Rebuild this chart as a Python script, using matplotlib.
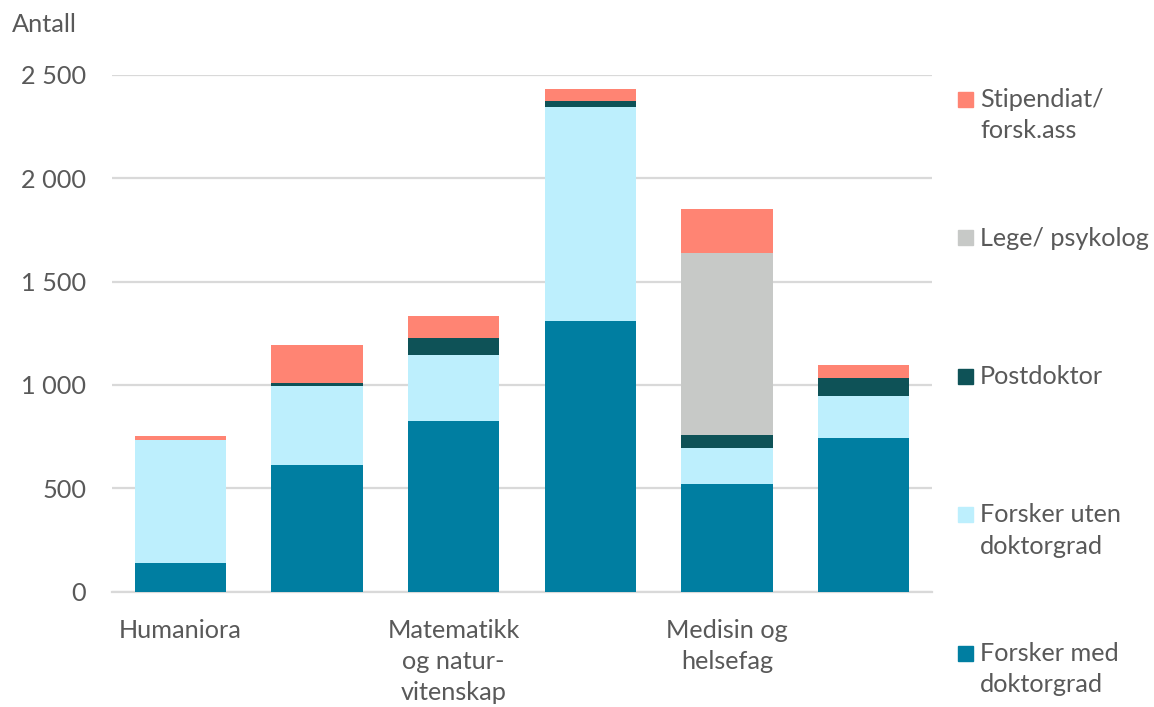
import matplotlib
matplotlib.use("Agg")
import matplotlib.pyplot as plt
from matplotlib.patches import Rectangle
import numpy as np

# data
kategorier = ["Humaniora", "", "Matematikk\nog natur-\nvitenskap", "", "Medisin og\nhelsefag", ""]
forsker_med = [137, 612, 827, 1310, 520, 743]
forsker_uten = [598, 383, 318, 1035, 173, 203]
postdoktor = [0, 14, 82, 28, 65, 87]
lege_psykolog = [0, 0, 0, 0, 878, 0]
stipendiat = [19, 184, 106, 56, 213, 63]

serier = [
    ("Forsker med\ndoktorgrad", forsker_med, "#007EA1"),
    ("Forsker uten\ndoktorgrad", forsker_uten, "#BDEFFD"),
    ("Postdoktor", postdoktor, "#0E5257"),
    ("Lege/ psykolog", lege_psykolog, "#C7C9C7"),
    ("Stipendiat/\nforsk.ass", stipendiat, "#FF8473"),
]

tekstfarge = "#595959"
fs = 18.2
plt.rcParams["font.family"] = ["Lato", "DejaVu Sans"]
plt.rcParams["font.size"] = fs

fig = plt.figure(figsize=(11.54, 7.07), dpi=100)
ax = fig.add_axes([112 / 1154, 1 - 591.7 / 707, 820 / 1154, 517 / 707])

x = np.arange(len(kategorier))
bunn = np.zeros(len(kategorier))
for navn, verdier, farge in serier:
    v = np.array(verdier, dtype=float)
    ax.bar(x, v, bottom=bunn, width=0.666, color=farge, zorder=3)
    bunn += v

ax.set_xlim(-0.5, len(kategorier) - 0.5)
ax.set_ylim(0, 2500)
ax.set_yticks(np.arange(0, 2501, 500))
ax.set_yticklabels([f"{v:,}".replace(",", " ") for v in range(0, 2501, 500)])
ax.set_xticks(x)
ax.set_xticklabels(kategorier, linespacing=1.43, va="top")
ax.tick_params(axis="both", length=0, colors=tekstfarge, labelsize=fs)
ax.tick_params(axis="y", pad=18.5)
ax.tick_params(axis="x", pad=19.5)
ax.grid(axis="y", color="#D9D9D9", linewidth=1.6, zorder=0)
for side in ["top", "right", "left"]:
    ax.spines[side].set_visible(False)
ax.spines["bottom"].set_color("#D9D9D9")
ax.spines["bottom"].set_linewidth(1.6)

fig.text(12 / 1154, 1 - 25 / 707, "Antall", color=tekstfarge, fontsize=fs, va="center", ha="left")

# legend, top-down, evenly spaced like the original
for i, (navn, verdier, farge) in enumerate(reversed(serier)):
    yc = 99 + i * 138.5
    fig.patches.append(Rectangle((958 / 1154, 1 - (yc + 7.5) / 707), 15 / 1154, 15 / 707,
                                 transform=fig.transFigure, color=farge, figure=fig))
    fig.text(980 / 1154, 1 - (yc - 11) / 707, navn, color=tekstfarge, fontsize=fs,
             va="top", ha="left", linespacing=1.43)

fig.savefig("out.png", dpi=100)
